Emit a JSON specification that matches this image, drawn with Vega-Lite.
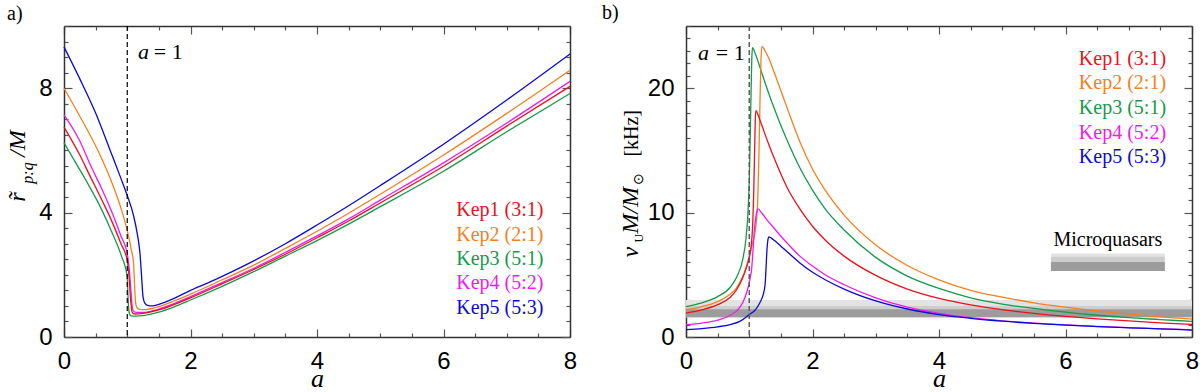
{
"$schema": "https://vega.github.io/schema/vega-lite/v6.json",
"background": "white",
"padding": {"left": 5, "top": 2, "right": 3, "bottom": 0},
"bounds": "flush",
"spacing": 116,
"config": {
  "view": {"stroke": null},
  "axis": {"domainColor": "#333", "domainWidth": 1.5, "tickColor": "#555", "tickWidth": 1.2, "labelFont": "Liberation Sans", "labelFontSize": 24, "labelColor": "black", "grid": false, "labelOverlap": false, "labelFlush": false, "zindex": 1, "format": "d"}
},
"datasets": {
"L": [
{"s":"Kep5","a":0,"r":9.33},{"s":"Kep5","a":0.25,"r":8.3},{"s":"Kep5","a":0.5,"r":7.2},{"s":"Kep5","a":0.73,"r":6.0},{"s":"Kep5","a":0.9,"r":5.1},{"s":"Kep5","a":1.0,"r":4.55},{"s":"Kep5","a":1.1,"r":3.9},{"s":"Kep5","a":1.16,"r":3.3},{"s":"Kep5","a":1.2,"r":2.72},{"s":"Kep5","a":1.225,"r":2.0},{"s":"Kep5","a":1.25,"r":1.28},{"s":"Kep5","a":1.28,"r":1.08},{"s":"Kep5","a":1.32,"r":1.02},{"s":"Kep5","a":1.4,"r":1.0},{"s":"Kep5","a":1.5,"r":1.05},{"s":"Kep5","a":1.75,"r":1.25},{"s":"Kep5","a":2.0,"r":1.5},{"s":"Kep5","a":2.31,"r":1.77},{"s":"Kep5","a":2.5,"r":1.95},{"s":"Kep5","a":3,"r":2.45},{"s":"Kep5","a":3.5,"r":3.0},{"s":"Kep5","a":4,"r":3.6},{"s":"Kep5","a":4.5,"r":4.22},{"s":"Kep5","a":5,"r":4.87},{"s":"Kep5","a":6,"r":6.2},{"s":"Kep5","a":7,"r":7.62},{"s":"Kep5","a":8,"r":9.1},
{"s":"Kep2","a":0,"r":8.0},{"s":"Kep2","a":0.25,"r":7.1},{"s":"Kep2","a":0.54,"r":5.98},{"s":"Kep2","a":0.75,"r":5.0},{"s":"Kep2","a":0.9,"r":4.15},{"s":"Kep2","a":1.0,"r":3.42},{"s":"Kep2","a":1.06,"r":2.85},{"s":"Kep2","a":1.1,"r":2.35},{"s":"Kep2","a":1.115,"r":1.7},{"s":"Kep2","a":1.13,"r":1.15},{"s":"Kep2","a":1.15,"r":0.95},{"s":"Kep2","a":1.19,"r":0.89},{"s":"Kep2","a":1.25,"r":0.88},{"s":"Kep2","a":1.5,"r":0.98},{"s":"Kep2","a":1.75,"r":1.17},{"s":"Kep2","a":2.0,"r":1.38},{"s":"Kep2","a":2.5,"r":1.84},{"s":"Kep2","a":3,"r":2.31},{"s":"Kep2","a":3.5,"r":2.85},{"s":"Kep2","a":4,"r":3.4},{"s":"Kep2","a":4.5,"r":3.98},{"s":"Kep2","a":5,"r":4.59},{"s":"Kep2","a":6,"r":5.85},{"s":"Kep2","a":7,"r":7.19},{"s":"Kep2","a":8,"r":8.58},
{"s":"Kep4","a":0,"r":7.14},{"s":"Kep4","a":0.25,"r":6.3},{"s":"Kep4","a":0.41,"r":5.56},{"s":"Kep4","a":0.6,"r":4.75},{"s":"Kep4","a":0.75,"r":4.05},{"s":"Kep4","a":0.9,"r":3.25},{"s":"Kep4","a":1.0,"r":2.68},{"s":"Kep4","a":1.035,"r":2.1},{"s":"Kep4","a":1.06,"r":1.45},{"s":"Kep4","a":1.075,"r":1.05},{"s":"Kep4","a":1.095,"r":0.84},{"s":"Kep4","a":1.14,"r":0.79},{"s":"Kep4","a":1.25,"r":0.79},{"s":"Kep4","a":1.5,"r":0.9},{"s":"Kep4","a":1.75,"r":1.08},{"s":"Kep4","a":2,"r":1.3},{"s":"Kep4","a":2.5,"r":1.75},{"s":"Kep4","a":3,"r":2.21},{"s":"Kep4","a":3.5,"r":2.72},{"s":"Kep4","a":4,"r":3.25},{"s":"Kep4","a":4.5,"r":3.8},{"s":"Kep4","a":5,"r":4.4},{"s":"Kep4","a":6,"r":5.6},{"s":"Kep4","a":7,"r":6.88},{"s":"Kep4","a":8,"r":8.22},
{"s":"Kep1","a":0,"r":6.75},{"s":"Kep1","a":0.25,"r":5.85},{"s":"Kep1","a":0.41,"r":5.18},{"s":"Kep1","a":0.6,"r":4.4},{"s":"Kep1","a":0.75,"r":3.75},{"s":"Kep1","a":0.9,"r":3.0},{"s":"Kep1","a":1.0,"r":2.46},{"s":"Kep1","a":1.03,"r":1.9},{"s":"Kep1","a":1.05,"r":1.3},{"s":"Kep1","a":1.065,"r":0.95},{"s":"Kep1","a":1.08,"r":0.78},{"s":"Kep1","a":1.12,"r":0.74},{"s":"Kep1","a":1.25,"r":0.76},{"s":"Kep1","a":1.5,"r":0.87},{"s":"Kep1","a":1.75,"r":1.05},{"s":"Kep1","a":2,"r":1.26},{"s":"Kep1","a":2.5,"r":1.71},{"s":"Kep1","a":3,"r":2.17},{"s":"Kep1","a":3.5,"r":2.66},{"s":"Kep1","a":4,"r":3.19},{"s":"Kep1","a":4.5,"r":3.73},{"s":"Kep1","a":5,"r":4.31},{"s":"Kep1","a":6,"r":5.49},{"s":"Kep1","a":7,"r":6.78},{"s":"Kep1","a":8,"r":8.06},
{"s":"Kep3","a":0,"r":6.25},{"s":"Kep3","a":0.2,"r":5.55},{"s":"Kep3","a":0.41,"r":4.81},{"s":"Kep3","a":0.52,"r":4.4},{"s":"Kep3","a":0.75,"r":3.4},{"s":"Kep3","a":0.9,"r":2.65},{"s":"Kep3","a":1.0,"r":1.93},{"s":"Kep3","a":1.01,"r":1.4},{"s":"Kep3","a":1.02,"r":1.0},{"s":"Kep3","a":1.035,"r":0.75},{"s":"Kep3","a":1.06,"r":0.68},{"s":"Kep3","a":1.15,"r":0.67},{"s":"Kep3","a":1.25,"r":0.69},{"s":"Kep3","a":1.5,"r":0.8},{"s":"Kep3","a":1.75,"r":0.98},{"s":"Kep3","a":2,"r":1.19},{"s":"Kep3","a":2.5,"r":1.63},{"s":"Kep3","a":3,"r":2.1},{"s":"Kep3","a":3.5,"r":2.6},{"s":"Kep3","a":4,"r":3.1},{"s":"Kep3","a":4.5,"r":3.63},{"s":"Kep3","a":5,"r":4.19},{"s":"Kep3","a":6,"r":5.33},{"s":"Kep3","a":7,"r":6.6},{"s":"Kep3","a":8,"r":7.83}
],
"R": [
{"s":"Kep3","a":0,"v":2.45},{"s":"Kep3","a":0.25,"v":2.75},{"s":"Kep3","a":0.5,"v":3.25},{"s":"Kep3","a":0.7,"v":4.0},{"s":"Kep3","a":0.8,"v":4.8},{"s":"Kep3","a":0.9,"v":6.3},{"s":"Kep3","a":0.95,"v":8.0},{"s":"Kep3","a":0.98,"v":10.0},{"s":"Kep3","a":1.0,"v":12.5},{"s":"Kep3","a":1.015,"v":16},{"s":"Kep3","a":1.03,"v":20},{"s":"Kep3","a":1.04,"v":22.3},{"s":"Kep3","a":1.05,"v":23.25},{"s":"Kep3","a":1.1,"v":22.7},{"s":"Kep3","a":1.2,"v":21.2},{"s":"Kep3","a":1.3,"v":19.7},{"s":"Kep3","a":1.4,"v":18.3},{"s":"Kep3","a":1.5,"v":17.0},{"s":"Kep3","a":1.6,"v":15.8},{"s":"Kep3","a":1.8,"v":13.6},{"s":"Kep3","a":2.0,"v":11.8},{"s":"Kep3","a":2.2,"v":10.3},{"s":"Kep3","a":2.5,"v":8.6},{"s":"Kep3","a":3.0,"v":6.4},{"s":"Kep3","a":3.5,"v":4.9},{"s":"Kep3","a":4.0,"v":3.9},{"s":"Kep3","a":4.5,"v":3.15},{"s":"Kep3","a":5.0,"v":2.65},{"s":"Kep3","a":5.5,"v":2.3},{"s":"Kep3","a":6.0,"v":2.0},{"s":"Kep3","a":6.5,"v":1.75},{"s":"Kep3","a":7.0,"v":1.55},{"s":"Kep3","a":7.5,"v":1.4},{"s":"Kep3","a":8,"v":1.25},
{"s":"Kep2","a":0,"v":2.19},{"s":"Kep2","a":0.25,"v":2.45},{"s":"Kep2","a":0.5,"v":2.85},{"s":"Kep2","a":0.7,"v":3.45},{"s":"Kep2","a":0.8,"v":3.95},{"s":"Kep2","a":0.9,"v":4.9},{"s":"Kep2","a":0.95,"v":5.6},{"s":"Kep2","a":1.0,"v":6.5},{"s":"Kep2","a":1.05,"v":7.5},{"s":"Kep2","a":1.09,"v":8.4},{"s":"Kep2","a":1.13,"v":10.5},{"s":"Kep2","a":1.15,"v":14.0},{"s":"Kep2","a":1.17,"v":19.0},{"s":"Kep2","a":1.185,"v":22.2},{"s":"Kep2","a":1.2,"v":23.36},{"s":"Kep2","a":1.24,"v":23.1},{"s":"Kep2","a":1.3,"v":22.5},{"s":"Kep2","a":1.4,"v":21.2},{"s":"Kep2","a":1.5,"v":19.8},{"s":"Kep2","a":1.6,"v":18.4},{"s":"Kep2","a":1.8,"v":15.7},{"s":"Kep2","a":2.0,"v":13.5},{"s":"Kep2","a":2.2,"v":11.8},{"s":"Kep2","a":2.5,"v":9.8},{"s":"Kep2","a":3.0,"v":7.4},{"s":"Kep2","a":3.5,"v":5.75},{"s":"Kep2","a":4.0,"v":4.6},{"s":"Kep2","a":4.5,"v":3.75},{"s":"Kep2","a":5.0,"v":3.2},{"s":"Kep2","a":5.5,"v":2.75},{"s":"Kep2","a":6.0,"v":2.4},{"s":"Kep2","a":6.5,"v":2.1},{"s":"Kep2","a":7.0,"v":1.85},{"s":"Kep2","a":7.5,"v":1.62},{"s":"Kep2","a":8,"v":1.44},
{"s":"Kep1","a":0,"v":1.92},{"s":"Kep1","a":0.25,"v":2.18},{"s":"Kep1","a":0.5,"v":2.6},{"s":"Kep1","a":0.7,"v":3.2},{"s":"Kep1","a":0.8,"v":3.8},{"s":"Kep1","a":0.9,"v":4.8},{"s":"Kep1","a":0.95,"v":5.5},{"s":"Kep1","a":1.0,"v":6.4},{"s":"Kep1","a":1.03,"v":7.3},{"s":"Kep1","a":1.05,"v":8.6},{"s":"Kep1","a":1.07,"v":11.5},{"s":"Kep1","a":1.085,"v":15},{"s":"Kep1","a":1.095,"v":17.4},{"s":"Kep1","a":1.105,"v":18.2},{"s":"Kep1","a":1.15,"v":17.7},{"s":"Kep1","a":1.2,"v":17.0},{"s":"Kep1","a":1.3,"v":15.6},{"s":"Kep1","a":1.4,"v":14.3},{"s":"Kep1","a":1.5,"v":13.1},{"s":"Kep1","a":1.6,"v":12.0},{"s":"Kep1","a":1.8,"v":10.3},{"s":"Kep1","a":2.0,"v":8.9},{"s":"Kep1","a":2.2,"v":7.8},{"s":"Kep1","a":2.5,"v":6.5},{"s":"Kep1","a":3.0,"v":4.95},{"s":"Kep1","a":3.5,"v":3.85},{"s":"Kep1","a":4.0,"v":3.1},{"s":"Kep1","a":4.5,"v":2.58},{"s":"Kep1","a":5.0,"v":2.2},{"s":"Kep1","a":5.5,"v":1.9},{"s":"Kep1","a":6.0,"v":1.66},{"s":"Kep1","a":6.5,"v":1.46},{"s":"Kep1","a":7.0,"v":1.29},{"s":"Kep1","a":7.5,"v":1.14},{"s":"Kep1","a":8,"v":1.01},
{"s":"Kep4","a":0,"v":0.99},{"s":"Kep4","a":0.25,"v":1.12},{"s":"Kep4","a":0.5,"v":1.35},{"s":"Kep4","a":0.7,"v":1.75},{"s":"Kep4","a":0.8,"v":2.1},{"s":"Kep4","a":0.9,"v":2.8},{"s":"Kep4","a":0.96,"v":3.6},{"s":"Kep4","a":1.01,"v":4.6},{"s":"Kep4","a":1.04,"v":5.6},{"s":"Kep4","a":1.06,"v":7.0},{"s":"Kep4","a":1.08,"v":8.5},{"s":"Kep4","a":1.1,"v":9.5},{"s":"Kep4","a":1.12,"v":10.1},{"s":"Kep4","a":1.137,"v":10.3},{"s":"Kep4","a":1.2,"v":9.95},{"s":"Kep4","a":1.3,"v":9.3},{"s":"Kep4","a":1.4,"v":8.7},{"s":"Kep4","a":1.5,"v":8.1},{"s":"Kep4","a":1.6,"v":7.55},{"s":"Kep4","a":1.8,"v":6.5},{"s":"Kep4","a":2.0,"v":5.7},{"s":"Kep4","a":2.2,"v":5.0},{"s":"Kep4","a":2.5,"v":4.2},{"s":"Kep4","a":3.0,"v":3.15},{"s":"Kep4","a":3.5,"v":2.4},{"s":"Kep4","a":4.0,"v":1.9},{"s":"Kep4","a":4.5,"v":1.55},{"s":"Kep4","a":5.0,"v":1.3},{"s":"Kep4","a":5.5,"v":1.12},{"s":"Kep4","a":6.0,"v":0.97},{"s":"Kep4","a":6.5,"v":0.85},{"s":"Kep4","a":7.0,"v":0.75},{"s":"Kep4","a":7.5,"v":0.66},{"s":"Kep4","a":8,"v":0.58},
{"s":"Kep5","a":0,"v":0.59},{"s":"Kep5","a":0.25,"v":0.68},{"s":"Kep5","a":0.5,"v":0.82},{"s":"Kep5","a":0.7,"v":1.0},{"s":"Kep5","a":0.85,"v":1.25},{"s":"Kep5","a":1.0,"v":1.8},{"s":"Kep5","a":1.1,"v":2.2},{"s":"Kep5","a":1.17,"v":2.77},{"s":"Kep5","a":1.22,"v":3.4},{"s":"Kep5","a":1.25,"v":4.2},{"s":"Kep5","a":1.265,"v":5.5},{"s":"Kep5","a":1.28,"v":7.0},{"s":"Kep5","a":1.295,"v":7.8},{"s":"Kep5","a":1.31,"v":8.05},{"s":"Kep5","a":1.35,"v":7.95},{"s":"Kep5","a":1.4,"v":7.75},{"s":"Kep5","a":1.5,"v":7.3},{"s":"Kep5","a":1.6,"v":6.85},{"s":"Kep5","a":1.8,"v":5.95},{"s":"Kep5","a":2.0,"v":5.2},{"s":"Kep5","a":2.2,"v":4.6},{"s":"Kep5","a":2.5,"v":3.85},{"s":"Kep5","a":3.0,"v":2.9},{"s":"Kep5","a":3.5,"v":2.25},{"s":"Kep5","a":4.0,"v":1.8},{"s":"Kep5","a":4.5,"v":1.5},{"s":"Kep5","a":5.0,"v":1.27},{"s":"Kep5","a":5.5,"v":1.09},{"s":"Kep5","a":6.0,"v":0.95},{"s":"Kep5","a":6.5,"v":0.84},{"s":"Kep5","a":7.0,"v":0.74},{"s":"Kep5","a":7.5,"v":0.65},{"s":"Kep5","a":8,"v":0.56}
]
},
"hconcat": [
{
 "width": 506, "height": 311,
 "layer": [
  {"data": {"name": "L"}, "mark": {"type": "line", "strokeWidth": 1.3, "interpolate": "monotone"},
   "encoding": {
    "x": {"field": "a", "type": "quantitative", "scale": {"domain": [0, 8], "nice": false, "zero": false},
      "axis": {"orient": "bottom", "values": [0,0.5,1,1.5,2,2.5,3,3.5,4,4.5,5,5.5,6,6.5,7,7.5,8], "labelExpr": "datum.value % 2 === 0 ? datum.label : ''", "tickSize": {"condition": {"test": "datum.value % 2 === 0", "value": -8}, "value": -4}, "labelPadding": 20, "title": "a", "titleFont": "Liberation Serif", "titleFontStyle": "italic", "titleFontWeight": "normal", "titleFontSize": 26, "titlePadding": -12}},
    "y": {"field": "r", "type": "quantitative", "scale": {"domain": [0, 10], "nice": false},
      "axis": {"orient": "left", "values": [0,0.5,1,1.5,2,2.5,3,3.5,4,4.5,5,5.5,6,6.5,7,7.5,8,8.5,9,9.5,10], "labelExpr": "datum.value % 4 === 0 ? datum.label : ''", "tickSize": {"condition": {"test": "datum.value % 4 === 0", "value": -8}, "value": -4}, "labelPadding": 20, "title": null}},
    "color": {"field": "s", "type": "nominal", "scale": {"domain": ["Kep1","Kep2","Kep3","Kep4","Kep5"], "range": ["#e8121c","#f3801f","#17994a","#f01af0","#0a0ad8"]}, "legend": null}
   }},
  {"data": {"values": [{"a": 1}]}, "mark": {"type": "rule", "color": "black", "strokeDash": [5, 3], "strokeWidth": 1.2},
   "encoding": {"x": {"field": "a", "type": "quantitative", "axis": {"orient": "top", "values": [0,0.5,1,1.5,2,2.5,3,3.5,4,4.5,5,5.5,6,6.5,7,7.5,8], "labels": false, "tickSize": {"condition": {"test": "datum.value % 2 === 0", "value": -8}, "value": -4}, "title": null}}}},
  {"data": {"values": [{"t":"Kep1 (3:1)","s":"Kep1","a":7.58,"r":3.9},{"t":"Kep2 (2:1)","s":"Kep2","a":7.58,"r":3.1},{"t":"Kep3 (5:1)","s":"Kep3","a":7.58,"r":2.3},{"t":"Kep4 (5:2)","s":"Kep4","a":7.58,"r":1.53},{"t":"Kep5 (5:3)","s":"Kep5","a":7.58,"r":0.73}]},
   "mark": {"type": "text", "align": "right", "baseline": "alphabetic", "font": "Liberation Serif", "fontSize": 20},
   "encoding": {"x": {"field": "a", "type": "quantitative", "axis": null}, "y": {"field": "r", "type": "quantitative", "axis": {"orient": "right", "values": [0,0.5,1,1.5,2,2.5,3,3.5,4,4.5,5,5.5,6,6.5,7,7.5,8,8.5,9,9.5,10], "labels": false, "tickSize": {"condition": {"test": "datum.value % 4 === 0", "value": -8}, "value": -4}, "title": null}}, "text": {"field": "t"}, "color": {"field": "s", "type": "nominal", "legend": null}}},
  {"data": {"values": [{"t":"a","a":1.17,"r":8.93}]}, "mark": {"type": "text", "align": "left", "baseline": "alphabetic", "font": "Liberation Serif", "fontSize": 22, "fontStyle": "italic", "color": "black"},
   "encoding": {"x": {"field": "a", "type": "quantitative", "axis": null}, "y": {"field": "r", "type": "quantitative", "axis": null}, "text": {"field": "t"}}},
  {"data": {"values": [{"t":"= 1","a":1.42,"r":8.93}]}, "mark": {"type": "text", "align": "left", "baseline": "alphabetic", "font": "Liberation Serif", "fontSize": 22, "color": "black"},
   "encoding": {"x": {"field": "a", "type": "quantitative", "axis": null}, "y": {"field": "r", "type": "quantitative", "axis": null}, "text": {"field": "t"}}},
  {"data": {"values": [{"t":"a)","a":-0.9,"r":10.2}]}, "mark": {"type": "text", "align": "left", "baseline": "alphabetic", "font": "Liberation Serif", "fontSize": 20, "color": "black"},
   "encoding": {"x": {"field": "a", "type": "quantitative", "axis": null}, "y": {"field": "r", "type": "quantitative", "axis": null}, "text": {"field": "t"}}},
  {"data": {"values": [{"t":"r\u0303","a":-0.62,"r":4.35},{"t":"/M","a":-0.62,"r":5.79}]}, "mark": {"type": "text", "align": "left", "baseline": "alphabetic", "angle": 270, "font": "Liberation Serif", "fontSize": 24, "fontStyle": "italic", "color": "black"},
   "encoding": {"x": {"field": "a", "type": "quantitative", "axis": null}, "y": {"field": "r", "type": "quantitative", "axis": null}, "text": {"field": "t"}}},
  {"data": {"values": [{"t":"p:q","a":-0.49,"r":4.93}]}, "mark": {"type": "text", "align": "left", "baseline": "alphabetic", "angle": 270, "font": "Liberation Serif", "fontSize": 16, "fontStyle": "italic", "color": "black"},
   "encoding": {"x": {"field": "a", "type": "quantitative", "axis": null}, "y": {"field": "r", "type": "quantitative", "axis": null}, "text": {"field": "t"}}}
 ]
},
{
 "width": 506, "height": 311,
 "layer": [
  {"data": {"values": [{"x1":0,"x2":8,"y1":1.58,"y2":2.98,"l":"a"},{"x1":0,"x2":8,"y1":1.58,"y2":2.5,"l":"b"},{"x1":0,"x2":8,"y1":1.58,"y2":2.24,"l":"c"},{"x1":5.77,"x2":7.57,"y1":5.3,"y2":6.72,"l":"a"},{"x1":5.77,"x2":7.57,"y1":5.3,"y2":6.46,"l":"b"},{"x1":5.77,"x2":7.57,"y1":5.3,"y2":6.02,"l":"c"}]},
   "mark": {"type": "rect"},
   "encoding": {"x": {"field": "x1", "type": "quantitative", "axis": null}, "x2": {"field": "x2"}, "y": {"field": "y1", "type": "quantitative", "axis": null}, "y2": {"field": "y2"},
     "fill": {"field": "l", "type": "nominal", "scale": {"domain": ["a","b","c"], "range": ["#e3e3e3","#cdcdcd","#9c9c9c"]}, "legend": null}}},
  {"data": {"name": "R"}, "mark": {"type": "line", "strokeWidth": 1.3, "interpolate": "monotone"},
   "encoding": {
    "x": {"field": "a", "type": "quantitative", "scale": {"domain": [0, 8], "nice": false, "zero": false},
      "axis": {"orient": "bottom", "values": [0,0.5,1,1.5,2,2.5,3,3.5,4,4.5,5,5.5,6,6.5,7,7.5,8], "labelExpr": "datum.value % 2 === 0 ? datum.label : ''", "tickSize": {"condition": {"test": "datum.value % 2 === 0", "value": -8}, "value": -4}, "labelPadding": 20, "title": "a", "titleFont": "Liberation Serif", "titleFontStyle": "italic", "titleFontWeight": "normal", "titleFontSize": 26, "titlePadding": -12}},
    "y": {"field": "v", "type": "quantitative", "scale": {"domain": [0, 25], "nice": false},
      "axis": {"orient": "left", "values": [0,1,2,3,4,5,6,7,8,9,10,11,12,13,14,15,16,17,18,19,20,21,22,23,24,25], "labelExpr": "datum.value % 10 === 0 ? datum.label : ''", "tickSize": {"condition": {"test": "datum.value % 10 === 0", "value": -8}, "value": -4}, "labelPadding": 20, "title": null}},
    "color": {"field": "s", "type": "nominal", "scale": {"domain": ["Kep1","Kep2","Kep3","Kep4","Kep5"], "range": ["#e8121c","#f3801f","#17994a","#f01af0","#0a0ad8"]}, "legend": null}
   }},
  {"data": {"values": [{"a": 1}]}, "mark": {"type": "rule", "color": "#555", "strokeDash": [5, 3], "strokeWidth": 1.4},
   "encoding": {"x": {"field": "a", "type": "quantitative", "axis": {"orient": "top", "values": [0,0.5,1,1.5,2,2.5,3,3.5,4,4.5,5,5.5,6,6.5,7,7.5,8], "labels": false, "tickSize": {"condition": {"test": "datum.value % 2 === 0", "value": -8}, "value": -4}, "title": null}}}},
  {"data": {"values": [{"t":"Kep1 (3:1)","s":"Kep1","a":7.59,"v":21.9},{"t":"Kep2 (2:1)","s":"Kep2","a":7.59,"v":19.9},{"t":"Kep3 (5:1)","s":"Kep3","a":7.59,"v":17.9},{"t":"Kep4 (5:2)","s":"Kep4","a":7.59,"v":15.9},{"t":"Kep5 (5:3)","s":"Kep5","a":7.59,"v":14.0}]},
   "mark": {"type": "text", "align": "right", "baseline": "alphabetic", "font": "Liberation Serif", "fontSize": 20},
   "encoding": {"x": {"field": "a", "type": "quantitative", "axis": null}, "y": {"field": "v", "type": "quantitative", "axis": {"orient": "right", "values": [0,1,2,3,4,5,6,7,8,9,10,11,12,13,14,15,16,17,18,19,20,21,22,23,24,25], "labels": false, "tickSize": {"condition": {"test": "datum.value % 10 === 0", "value": -8}, "value": -4}, "title": null}}, "text": {"field": "t"}, "color": {"field": "s", "type": "nominal", "legend": null}}},
  {"data": {"values": [{"t":"Microquasars","a":6.67,"v":7.3}]}, "mark": {"type": "text", "align": "center", "baseline": "alphabetic", "font": "Liberation Serif", "fontSize": 20, "color": "black"},
   "encoding": {"x": {"field": "a", "type": "quantitative", "axis": null}, "y": {"field": "v", "type": "quantitative", "axis": null}, "text": {"field": "t"}}},
  {"data": {"values": [{"t":"a","a":0.19,"v":22.24}]}, "mark": {"type": "text", "align": "left", "baseline": "alphabetic", "font": "Liberation Serif", "fontSize": 22, "fontStyle": "italic", "color": "black"},
   "encoding": {"x": {"field": "a", "type": "quantitative", "axis": null}, "y": {"field": "v", "type": "quantitative", "axis": null}, "text": {"field": "t"}}},
  {"data": {"values": [{"t":"= 1","a":0.47,"v":22.24}]}, "mark": {"type": "text", "align": "left", "baseline": "alphabetic", "font": "Liberation Serif", "fontSize": 22, "color": "black"},
   "encoding": {"x": {"field": "a", "type": "quantitative", "axis": null}, "y": {"field": "v", "type": "quantitative", "axis": null}, "text": {"field": "t"}}},
  {"data": {"values": [{"t":"b)","a":-1.33,"v":25.6}]}, "mark": {"type": "text", "align": "left", "baseline": "alphabetic", "font": "Liberation Serif", "fontSize": 20, "color": "black"},
   "encoding": {"x": {"field": "a", "type": "quantitative", "axis": null}, "y": {"field": "v", "type": "quantitative", "axis": null}, "text": {"field": "t"}}},
  {"data": {"values": [{"t":"\u03bd","a":-0.76,"v":6.4},{"t":"M/M","a":-0.76,"v":8.3}]}, "mark": {"type": "text", "align": "left", "baseline": "alphabetic", "angle": 270, "font": "Liberation Serif", "fontSize": 24, "fontStyle": "italic", "color": "black"},
   "encoding": {"x": {"field": "a", "type": "quantitative", "axis": null}, "y": {"field": "v", "type": "quantitative", "axis": null}, "text": {"field": "t"}}},
  {"data": {"values": [{"t":"[kHz]","a":-0.76,"v":14.5}]}, "mark": {"type": "text", "align": "left", "baseline": "alphabetic", "angle": 270, "font": "Liberation Serif", "fontSize": 20, "color": "black"},
   "encoding": {"x": {"field": "a", "type": "quantitative", "axis": null}, "y": {"field": "v", "type": "quantitative", "axis": null}, "text": {"field": "t"}}},
  {"data": {"values": [{"t":"U","a":-0.68,"v":7.6}]}, "mark": {"type": "text", "align": "left", "baseline": "alphabetic", "angle": 270, "font": "Liberation Serif", "fontSize": 12, "color": "black"},
   "encoding": {"x": {"field": "a", "type": "quantitative", "axis": null}, "y": {"field": "v", "type": "quantitative", "axis": null}, "text": {"field": "t"}}},
  {"data": {"values": [{"t":"\u2299","a":-0.68,"v":12.2}]}, "mark": {"type": "text", "align": "left", "baseline": "alphabetic", "angle": 270, "font": "Liberation Serif", "fontSize": 14, "color": "black"},
   "encoding": {"x": {"field": "a", "type": "quantitative", "axis": null}, "y": {"field": "v", "type": "quantitative", "axis": null}, "text": {"field": "t"}}}
 ]
}
]
}
